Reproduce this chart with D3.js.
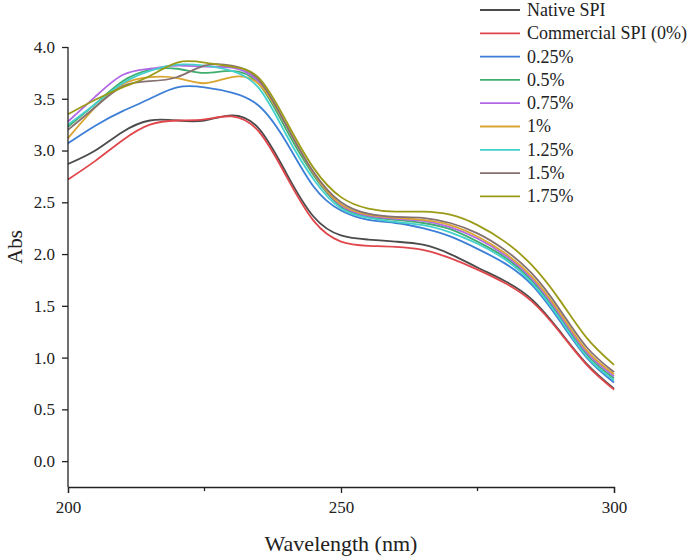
<!DOCTYPE html>
<html>
<head>
<meta charset="utf-8">
<script src="https://cdn.jsdelivr.net/npm/d3@7"></script>
<style>
  body { margin: 0; background: #fff; }
  svg { display: block; }
  svg text { font-family: "Liberation Serif", "Times New Roman", serif; }
</style>
</head>
<body>
<svg id="chart" width="694" height="558"></svg>
<script>
// wavelengths sampled every 5 nm
const wavelengths = [200, 205, 210, 215, 220, 225, 230, 235, 240, 245, 250,
                     255, 260, 265, 270, 275, 280, 285, 290, 295, 300];

const seriesNames = ["Native SPI", "Commercial SPI (0%)", "0.25%", "0.5%", "0.75%",
                     "1%", "1.25%", "1.5%", "1.75%"];
const seriesColors = ["#4b4b4b", "#e0474c", "#3d7fd6", "#3fae6f", "#b267e6",
                      "#dba531", "#43d0cc", "#85716f", "#9c9b18"];

const nativeSPI     = [2.87, 3.00, 3.18, 3.29, 3.29, 3.29, 3.34, 3.21, 2.78, 2.36, 2.18, 2.14, 2.12, 2.09, 2.00, 1.87, 1.74, 1.56, 1.26, 0.94, 0.70];
const commercialSPI = [2.72, 2.90, 3.10, 3.25, 3.29, 3.30, 3.33, 3.18, 2.75, 2.32, 2.12, 2.08, 2.07, 2.04, 1.96, 1.85, 1.72, 1.54, 1.25, 0.93, 0.69];
const p025 = [3.07, 3.24, 3.38, 3.50, 3.61, 3.61, 3.56, 3.43, 3.08, 2.65, 2.42, 2.33, 2.30, 2.25, 2.17, 2.05, 1.91, 1.70, 1.36, 1.00, 0.76];
const p05  = [3.23, 3.45, 3.67, 3.78, 3.79, 3.75, 3.77, 3.64, 3.20, 2.76, 2.46, 2.36, 2.33, 2.30, 2.24, 2.12, 1.97, 1.74, 1.40, 1.03, 0.80];
const p075 = [3.28, 3.52, 3.73, 3.79, 3.82, 3.81, 3.80, 3.66, 3.24, 2.78, 2.47, 2.37, 2.34, 2.32, 2.26, 2.15, 1.99, 1.76, 1.42, 1.05, 0.82];
const p1   = [3.12, 3.42, 3.64, 3.71, 3.70, 3.65, 3.71, 3.64, 3.24, 2.78, 2.48, 2.38, 2.35, 2.33, 2.28, 2.17, 2.01, 1.78, 1.44, 1.07, 0.84];
const p125 = [3.25, 3.45, 3.65, 3.77, 3.83, 3.82, 3.77, 3.60, 3.15, 2.72, 2.44, 2.35, 2.31, 2.28, 2.21, 2.10, 1.95, 1.72, 1.38, 1.01, 0.78];
const p15  = [3.20, 3.42, 3.62, 3.67, 3.71, 3.82, 3.82, 3.68, 3.24, 2.79, 2.50, 2.39, 2.36, 2.35, 2.30, 2.20, 2.04, 1.81, 1.47, 1.10, 0.86];
const p175 = [3.35, 3.49, 3.61, 3.72, 3.85, 3.85, 3.81, 3.70, 3.28, 2.83, 2.55, 2.44, 2.41, 2.41, 2.38, 2.28, 2.12, 1.89, 1.56, 1.19, 0.93];

const allSeries = [nativeSPI, commercialSPI, p025, p05, p075, p1, p125, p15, p175];

const xMajorTicks = [200, 250, 300];
const xMinorTicks = [225, 275];
const yTicks = [0, 0.5, 1, 1.5, 2, 2.5, 3, 3.5, 4];

const svg = d3.select("#chart");
const plotLeft = 68, plotRight = 614, plotTop = 47, plotBottom = 487;
const ink = "#222";

const x = d3.scaleLinear().domain([200, 300]).range([plotLeft, plotRight]);
const y = d3.scaleLinear().domain([-0.25, 4.0]).range([plotBottom, plotTop]);

// lines
const line = d3.line()
    .x((d, i) => x(wavelengths[i]))
    .y(d => y(d))
    .curve(d3.curveNatural);

svg.append("g")
    .attr("fill", "none")
    .attr("stroke-width", 1.8)
    .selectAll("path")
    .data(allSeries)
    .join("path")
    .attr("stroke", (d, i) => seriesColors[i])
    .attr("d", line);

// x axis
const xAxis = svg.append("g")
    .attr("transform", `translate(0,${plotBottom})`)
    .call(d3.axisBottom(x).tickValues(xMajorTicks).tickSize(6).tickPadding(8).tickFormat(d3.format("d")))
    .attr("font-family", null)
    .attr("font-size", 17);
xAxis.select(".domain").attr("stroke", ink).attr("stroke-width", 1.3);
xAxis.selectAll(".tick line").attr("stroke", ink).attr("stroke-width", 1.3);
xAxis.selectAll("text").attr("fill", ink);

svg.append("g")
    .attr("transform", `translate(0,${plotBottom})`)
    .selectAll("line")
    .data(xMinorTicks)
    .join("line")
    .attr("x1", d => x(d)).attr("x2", d => x(d))
    .attr("y1", 0).attr("y2", 4)
    .attr("stroke", ink).attr("stroke-width", 1.3);

// y axis
const yAxis = svg.append("g")
    .attr("transform", `translate(${plotLeft},0)`)
    .call(d3.axisLeft(y).tickValues(yTicks).tickSize(6).tickPadding(7).tickFormat(d3.format(".1f")))
    .attr("font-family", null)
    .attr("font-size", 17);
yAxis.select(".domain").attr("stroke", ink).attr("stroke-width", 1.3)
    .attr("d", `M0,${plotTop}V${plotBottom}`);
yAxis.selectAll(".tick line").attr("stroke", ink).attr("stroke-width", 1.3);
yAxis.selectAll("text").attr("fill", ink);

// axis titles
svg.append("text")
    .attr("x", (plotLeft + plotRight) / 2)
    .attr("y", 551)
    .attr("text-anchor", "middle")
    .attr("font-size", 22)
    .attr("fill", ink)
    .text("Wavelength (nm)");

svg.append("text")
    .attr("transform", "translate(22,247) rotate(-90)")
    .attr("text-anchor", "middle")
    .attr("font-size", 21)
    .attr("fill", ink)
    .text("Abs");

// legend
const legend = svg.append("g")
    .selectAll("g")
    .data(seriesNames)
    .join("g")
    .attr("transform", (d, i) => `translate(480,${10 + i * 23.3})`);

legend.append("line")
    .attr("x1", 0).attr("x2", 40)
    .attr("stroke", (d, i) => seriesColors[i])
    .attr("stroke-width", 1.8);

legend.append("text")
    .attr("x", 47)
    .attr("dy", "0.33em")
    .attr("font-size", 18)
    .attr("fill", ink)
    .text(d => d);
</script>
</body>
</html>
